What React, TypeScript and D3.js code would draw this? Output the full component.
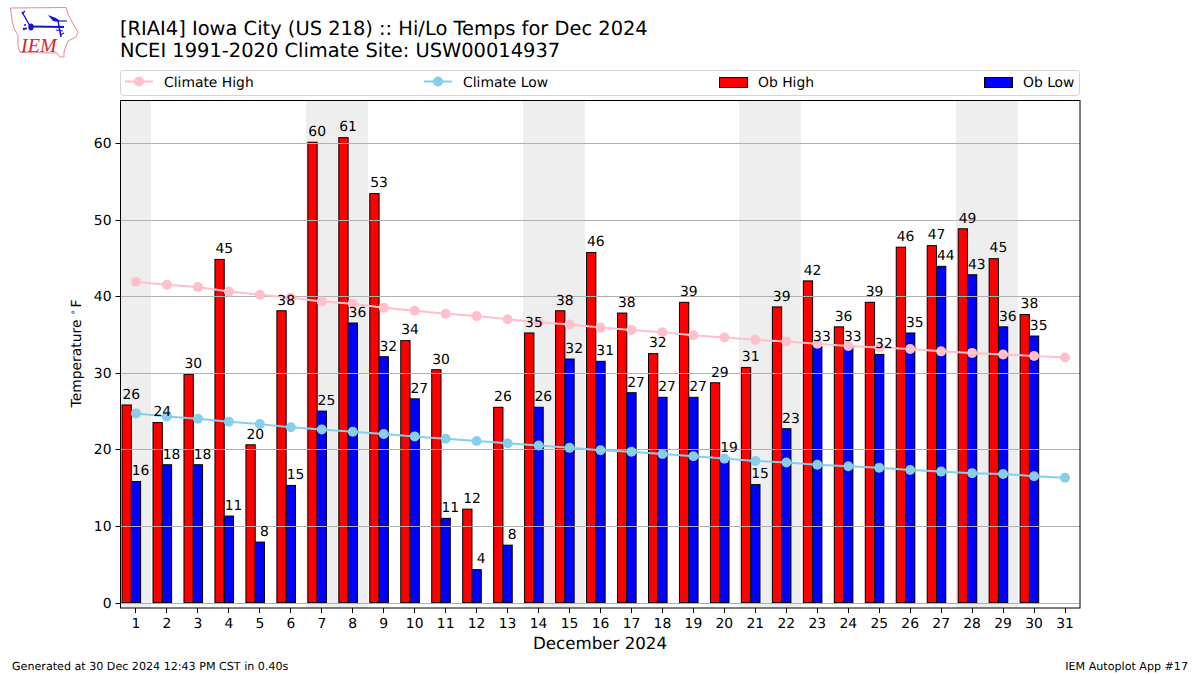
import React from "react";
import * as d3 from "d3";

const days = d3.range(1, 32);
const obHigh = [25.8, 23.5, 29.8, 44.8, 20.6, 38.1, 60.1, 60.7, 53.4, 34.2, 30.4, 12.2, 25.5, 35.2, 38.1, 45.7, 37.8, 32.5, 39.2, 28.7, 30.7, 38.6, 42.0, 36.0, 39.2, 46.4, 46.6, 48.8, 44.9, 37.6];
const obLow = [15.8, 18, 18, 11.3, 7.9, 15.3, 25, 36.5, 32.1, 26.6, 11, 4.3, 7.5, 25.5, 31.8, 31.5, 27.4, 26.8, 26.8, 18.9, 15.4, 22.7, 33.4, 33.4, 32.4, 35.2, 43.9, 42.8, 36, 34.8];
const highLabels = [26, 24, 30, 45, 20, 38, 60, 61, 53, 34, 30, 12, 26, 35, 38, 46, 38, 32, 39, 29, 31, 39, 42, 36, 39, 46, 47, 49, 45, 38];
const lowLabels = [16, 18, 18, 11, 8, 15, 25, 36, 32, 27, 11, 4, 8, 26, 32, 31, 27, 27, 27, 19, 15, 23, 33, 33, 32, 35, 44, 43, 36, 35];
const climateHigh = [41.9, 41.5, 41.2, 40.6, 40.2, 39.8, 39.3, 39.0, 38.5, 38.1, 37.7, 37.4, 37.0, 36.6, 36.3, 35.9, 35.6, 35.3, 34.9, 34.6, 34.3, 34.1, 33.8, 33.5, 33.3, 33.1, 32.8, 32.6, 32.4, 32.2, 32.0];
const climateLow = [24.7, 24.3, 24.0, 23.6, 23.3, 22.9, 22.6, 22.3, 22.0, 21.7, 21.4, 21.1, 20.8, 20.5, 20.2, 19.9, 19.7, 19.4, 19.1, 18.8, 18.5, 18.3, 18.0, 17.8, 17.6, 17.3, 17.1, 16.9, 16.8, 16.5, 16.3];
const weekendSpans = [[0.5, 1.5], [6.5, 8.5], [13.5, 15.5], [20.5, 22.5], [27.5, 29.5]];
const yTicks = [0, 10, 20, 30, 40, 50, 60];

const FONT = "'DejaVu Sans', sans-serif";
const L = 120.5, R = 1080, T = 100.5, B = 608;

export default function App() {
  const x = d3.scaleLinear().domain([0.5, 31.5]).range([120.5, 1080.5]);
  const y = d3.scaleLinear().domain([0, 60]).range([602.6, 143]);
  const w = x(1.3) - x(1);
  const line = d3.line<number>().x((_, i) => x(days[i])).y((d) => y(d));
  const circles = (vals: number[], c: string) =>
    vals.map((v, i) => <circle key={i} cx={x(days[i])} cy={y(v)} r={5} fill={c} />);
  return (
    <svg width={1200} height={675} style={{ position: "absolute", left: 0, top: 0, background: "#fff" }} fontFamily={FONT} textRendering="geometricPrecision">
      {/* logo */}
      <g>
        <path d="M10.5 8 L66 7.5 L68 14 L71 20 L75 27 L78 32 L76 37 L72 39 L68 41 L66 46 L64 52 L64 57 L60 57 L57 53 L20 52.5 L18 46 L18 36 L14 28 L12 20 Z" fill="#fff" stroke="#e98a8a" strokeWidth={1} />
        <g stroke="#1414d2" fill="none">
          <path d="M31 26.5 L64 27" strokeWidth={2.2} />
          <path d="M22 12 L30 26" strokeWidth={1.4} />
          <path d="M22 14 L25 11" strokeWidth={1.2} />
          <path d="M55 21 L67 21" strokeWidth={1.2} />
          <path d="M58 21 L61 37" strokeWidth={1.4} />
          <path d="M56 30 L63 31 M60 35 L64 33" strokeWidth={1.2} />
        </g>
        <path d="M48 15 L56 18 L60 21 L53 21 Z" fill="#1414d2" />
        <ellipse cx={31} cy={27} rx={2.7} ry={3.4} fill="#1414d2" />
        <circle cx={24} cy={29} r={1.2} fill="#1414d2" />
        <circle cx={26} cy={28.5} r={1.1} fill="#1414d2" />
        <circle cx={25} cy={25} r={1} fill="#1414d2" />
        <text x={21} y={52} fontFamily="'Liberation Serif', serif" fontStyle="italic" fontSize={20} fill="#d8232a">IEM</text>
      </g>

      <text x={120} y={35} fontSize={19.44} fill="#000">[RIAI4] Iowa City (US 218) :: Hi/Lo Temps for Dec 2024</text>
      <text x={120} y={57} fontSize={19.44} fill="#000">NCEI 1991-2020 Climate Site: USW00014937</text>

      {/* legend */}
      <rect x={120.5} y={70.5} width={959} height={25} rx={3} fill="#fff" stroke="#d5d5d5" />
      <line x1={125} x2={153} y1={81.5} y2={81.5} stroke="pink" strokeWidth={2} />
      <circle cx={139} cy={81.5} r={5} fill="pink" />
      <text x={164} y={86.5} fontSize={13.89}>Climate High</text>
      <line x1={424} x2={452} y1={81.5} y2={81.5} stroke="skyblue" strokeWidth={2} />
      <circle cx={438} cy={81.5} r={5} fill="skyblue" />
      <text x={463} y={86.5} fontSize={13.89}>Climate Low</text>
      <rect x={719.5} y={77.5} width={28} height={10} fill="red" stroke="#000" />
      <text x={758} y={86.5} fontSize={13.89}>Ob High</text>
      <rect x={984.5} y={77.5} width={28} height={10} fill="blue" stroke="#000" />
      <text x={1023} y={86.5} fontSize={13.89}>Ob Low</text>

      {/* plot */}
      {weekendSpans.map(([a, b]) => (
        <rect key={a} x={Math.floor(x(a))} y={T} width={x(b) - x(a)} height={B - T} fill="#eeeeee" />
      ))}
      {obHigh.map((v, i) => (
        <rect key={i} x={x(days[i] - 0.45)} y={y(v)} width={w} height={y(0) - y(v)} fill="red" stroke="#000" strokeWidth={1} />
      ))}
      {obLow.map((v, i) => (
        <rect key={i} x={x(days[i] - 0.15)} y={y(v)} width={w} height={y(0) - y(v)} fill="blue" stroke="#000" strokeWidth={1} />
      ))}
      {yTicks.map((t) => (
        <line key={t} x1={L} x2={R} y1={Math.round(y(t)) + 0.5} y2={Math.round(y(t)) + 0.5} stroke="#b0b0b0" strokeWidth={1} />
      ))}
      <path d={line(climateHigh) ?? ""} fill="none" stroke="pink" strokeWidth={2} />
      {circles(climateHigh, "pink")}
      <path d={line(climateLow) ?? ""} fill="none" stroke="skyblue" strokeWidth={2} />
      {circles(climateLow, "skyblue")}
      {obHigh.map((v, i) => (
        <text key={i} x={x(days[i] - 0.15)} y={y(v) - 6.2} textAnchor="middle" fontSize={13.89}>{highLabels[i]}</text>
      ))}
      {obLow.map((v, i) => (
        <text key={i} x={x(days[i] + 0.15)} y={y(v) - 6.2} textAnchor="middle" fontSize={13.89}>{lowLabels[i]}</text>
      ))}
      <rect x={L} y={T} width={R - L} height={B - T} fill="none" stroke="#000" strokeWidth={1} />

      {/* axes */}
      {yTicks.map((t) => (
        <g key={t}>
          <line x1={L - 5} x2={L} y1={Math.round(y(t)) + 0.5} y2={Math.round(y(t)) + 0.5} stroke="#000" />
          <text x={L - 9} y={y(t) + 5} textAnchor="end" fontSize={13.89}>{t}</text>
        </g>
      ))}
      {days.map((d) => (
        <g key={d}>
          <line x1={Math.round(x(d) - 0.5) + 0.5} x2={Math.round(x(d) - 0.5) + 0.5} y1={B} y2={B + 5} stroke="#000" />
          <text x={x(d)} y={B + 19.5} textAnchor="middle" fontSize={13.89}>{d}</text>
        </g>
      ))}
      <text x={600} y={649} textAnchor="middle" fontSize={16.67}>December 2024</text>
      <text transform="translate(80.5,353.5) rotate(-90)" textAnchor="middle" fontSize={13.89}>
        Temperature <tspan fontSize={9.7} dy={-5}>∘</tspan><tspan dy={5} dx={1.5}>F</tspan>
      </text>
      <text x={12} y={670} fontSize={11.11}>Generated at 30 Dec 2024 12:43 PM CST in 0.40s</text>
      <text x={1188} y={670} textAnchor="end" fontSize={11.11}>IEM Autoplot App #17</text>
    </svg>
  );
}
